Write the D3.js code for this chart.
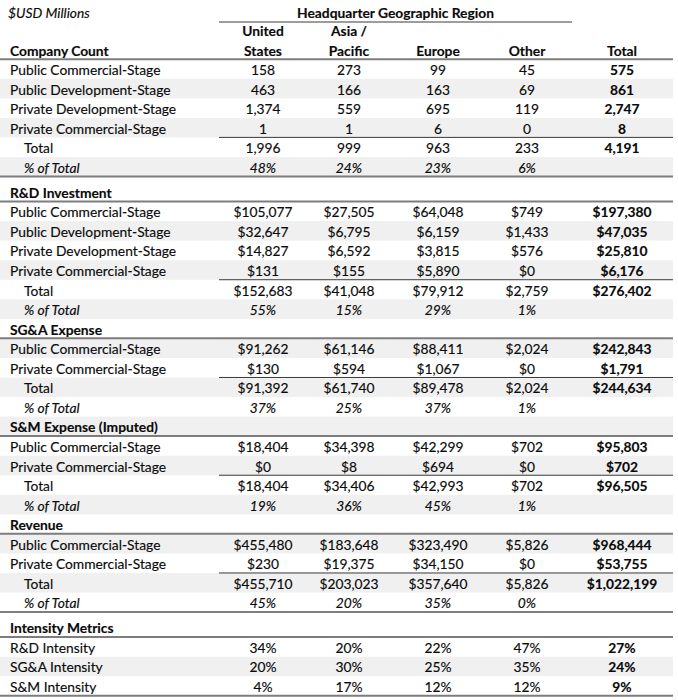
<!DOCTYPE html>
<html><head><meta charset="utf-8">
<script src="https://cdn.jsdelivr.net/npm/d3@7"></script>
<style>
body{margin:0;background:#fff}
svg{display:block}
text{font-family:Lato,"Noto Sans",sans-serif;fill:#0a0a0a;font-size:13.8px;stroke:#0a0a0a;stroke-width:0.15px}
</style>
</head><body><svg id="c" width="678" height="700"></svg>
<script>
// ---------- DATA ----------
const columns = ["United States","Asia / Pacific","Europe","Other","Total"];
const headerTop = ["United","Asia /","","",""];
const headerBottom = ["States","Pacific","Europe","Other","Total"];
const groupTitle = "Headquarter Geographic Region";
const unitsLabel = "$USD Millions";
const stageLabels = ["Public Commercial-Stage","Public Development-Stage","Private Development-Stage","Private Commercial-Stage"];
const commercialLabels = ["Public Commercial-Stage","Private Commercial-Stage"];
const intensityLabels = ["R&D Intensity","SG&A Intensity","S&M Intensity"];

const countRows = [[158,273,99,45,575],[463,166,163,69,861],[1374,559,695,119,2747],[1,1,6,0,8]];
const countTotal = [1996,999,963,233,4191];
const countPct = [48,24,23,6];

const rdRows = [[105077,27505,64048,749,197380],[32647,6795,6159,1433,47035],[14827,6592,3815,576,25810],[131,155,5890,0,6176]];
const rdTotal = [152683,41048,79912,2759,276402];
const rdPct = [55,15,29,1];

const sgaRows = [[91262,61146,88411,2024,242843],[130,594,1067,0,1791]];
const sgaTotal = [91392,61740,89478,2024,244634];
const sgaPct = [37,25,37,1];

const smRows = [[18404,34398,42299,702,95803],[0,8,694,0,702]];
const smTotal = [18404,34406,42993,702,96505];
const smPct = [19,36,45,1];

const revRows = [[455480,183648,323490,5826,968444],[230,19375,34150,0,53755]];
const revTotal = [455710,203023,357640,5826,1022199];
const revPct = [45,20,35,0];

const intensityRows = [[34,20,22,47,27],[20,30,25,35,24],[4,17,12,12,9]];

const sectionTitles = ["Company Count","R&D Investment","SG&A Expense","S&M Expense (Imputed)","Revenue","Intensity Metrics"];

// ---------- BUILD ROWS ----------
const fCount = d3.format(",");
const fUsd = v => "$" + d3.format(",")(v);
const fPct = v => v + "%";

const sections = [
  {title:sectionTitles[0], labels:stageLabels, rows:countRows, total:countTotal, pct:countPct, fmt:fCount},
  {title:sectionTitles[1], labels:stageLabels, rows:rdRows, total:rdTotal, pct:rdPct, fmt:fUsd, gapBefore:true},
  {title:sectionTitles[2], labels:commercialLabels, rows:sgaRows, total:sgaTotal, pct:sgaPct, fmt:fUsd},
  {title:sectionTitles[3], labels:commercialLabels, rows:smRows, total:smTotal, pct:smPct, fmt:fUsd},
  {title:sectionTitles[4], labels:commercialLabels, rows:revRows, total:revTotal, pct:revPct, fmt:fUsd, lineAfter:true},
  {title:sectionTitles[5], labels:intensityLabels, rows:intensityRows, fmt:fPct, gapBefore:true}
];

const rows = [];
let slot = 0;
const GAP = 0.28;
rows.push({kind:"title", slot:slot++});
rows.push({kind:"head1", slot:slot++});
sections.forEach((s,si)=>{
  if (s.gapBefore) slot += GAP;
  if (si===0) rows.push({kind:"head2", label:s.title, slot:slot++, lineAfter:"full"});
  else rows.push({kind:"section", label:s.title, slot:slot++, lineAfter:"full"});
  s.rows.forEach((vals,i)=>{
    const last = i===s.rows.length-1;
    rows.push({kind:"data", label:s.labels[i], vals:vals.map(s.fmt), slot:slot++,
      lineAfter: last ? (s.total ? "partial" : "full") : null});
  });
  if (s.total){
    rows.push({kind:"total", label:"Total", vals:s.total.map(s.fmt), slot:slot++});
    rows.push({kind:"pct", label:"% of Total", vals:s.pct.map(fPct), slot:slot++,
      lineAfter:(si===0||s.lineAfter)?"full":null});
  }
});
rows.forEach((r,i)=>r.idx=i);
const shaded = new Set([4,6,8,11,13,15,17,19,21,23,25,27,29,33]);

// ---------- SCALES ----------
const STEP = 19.55;
const y = d3.scaleLinear().domain([0,1]).range([11.4, 11.4+STEP]);
const x = d3.scaleOrdinal().domain(columns).range([263,349,438,527,622]);
const left = 0, right = 673, partialLeft = 219;

const svg = d3.select("#c");

// row shading
svg.append("g").selectAll("rect").data(rows.filter(r=>shaded.has(r.idx))).join("rect")
  .attr("x",left).attr("width",right-left)
  .attr("y",r=>y(r.slot)-10.8).attr("height",STEP)
  .attr("fill","#f0f0f0");

// lines
const lines = rows.filter(r=>r.lineAfter);
svg.append("g").selectAll("line").data(lines).join("line")
  .attr("x1",r=>r.lineAfter==="full"?left:partialLeft).attr("x2",right)
  .attr("y1",r=>y(r.slot)+8.7).attr("y2",r=>y(r.slot)+8.7)
  .attr("stroke",r=>r.lineAfter==="full"?"#7d7d7d":"#3a3a3a")
  .attr("stroke-width",r=>r.lineAfter==="full"?2:1);

// group title underline
svg.append("line").attr("x1",partialLeft).attr("x2",572)
  .attr("y1",y(0)+10.5).attr("y2",y(0)+10.5)
  .attr("stroke","#7d7d7d").attr("stroke-width",1.5);

const BASE = 5;
const tg = svg.append("g");
// title row
tg.append("text").attr("x",8).attr("y",y(0)+BASE+1.5).style("font-style","italic").text(unitsLabel);
tg.append("text").attr("x",(partialLeft+572)/2).attr("y",y(0)+BASE+1.5)
  .attr("text-anchor","middle").style("font-weight","bold").text(groupTitle);
// header rows
const h1 = rows.find(r=>r.kind==="head1"), h2 = rows.find(r=>r.kind==="head2");
tg.selectAll(".h1").data(columns).join("text").attr("class","h1")
  .attr("x",d=>x(d)).attr("y",y(h1.slot)+BASE).attr("text-anchor","middle")
  .style("font-weight","bold").text((d,i)=>headerTop[i]);
tg.selectAll(".h2").data(columns).join("text").attr("class","h2")
  .attr("x",d=>x(d)).attr("y",y(h2.slot)+BASE).attr("text-anchor","middle")
  .style("font-weight","bold").text((d,i)=>headerBottom[i]);
tg.append("text").attr("x",10).attr("y",y(h2.slot)+BASE).style("font-weight","bold").text(h2.label);

// section headers
tg.selectAll(".sec").data(rows.filter(r=>r.kind==="section")).join("text").attr("class","sec")
  .attr("x",10).attr("y",r=>y(r.slot)+BASE).style("font-weight","bold").text(r=>r.label);

// body labels and values
const body = rows.filter(r=>r.vals);
tg.selectAll(".lab").data(body).join("text").attr("class","lab")
  .attr("x",r=>r.kind==="data"?10:24).attr("y",r=>y(r.slot)+BASE)
  .style("font-style",r=>r.kind==="pct"?"italic":null).text(r=>r.label);
body.forEach(r=>{
  tg.append("g").selectAll("text").data(r.vals).join("text")
    .attr("x",(v,i)=>x(columns[i])).attr("y",y(r.slot)+BASE).attr("text-anchor","middle")
    .style("font-style",r.kind==="pct"?"italic":null)
    .style("font-weight",(v,i)=>i===4?"bold":null)
    .text(v=>v);
});
</script>
</body></html>
